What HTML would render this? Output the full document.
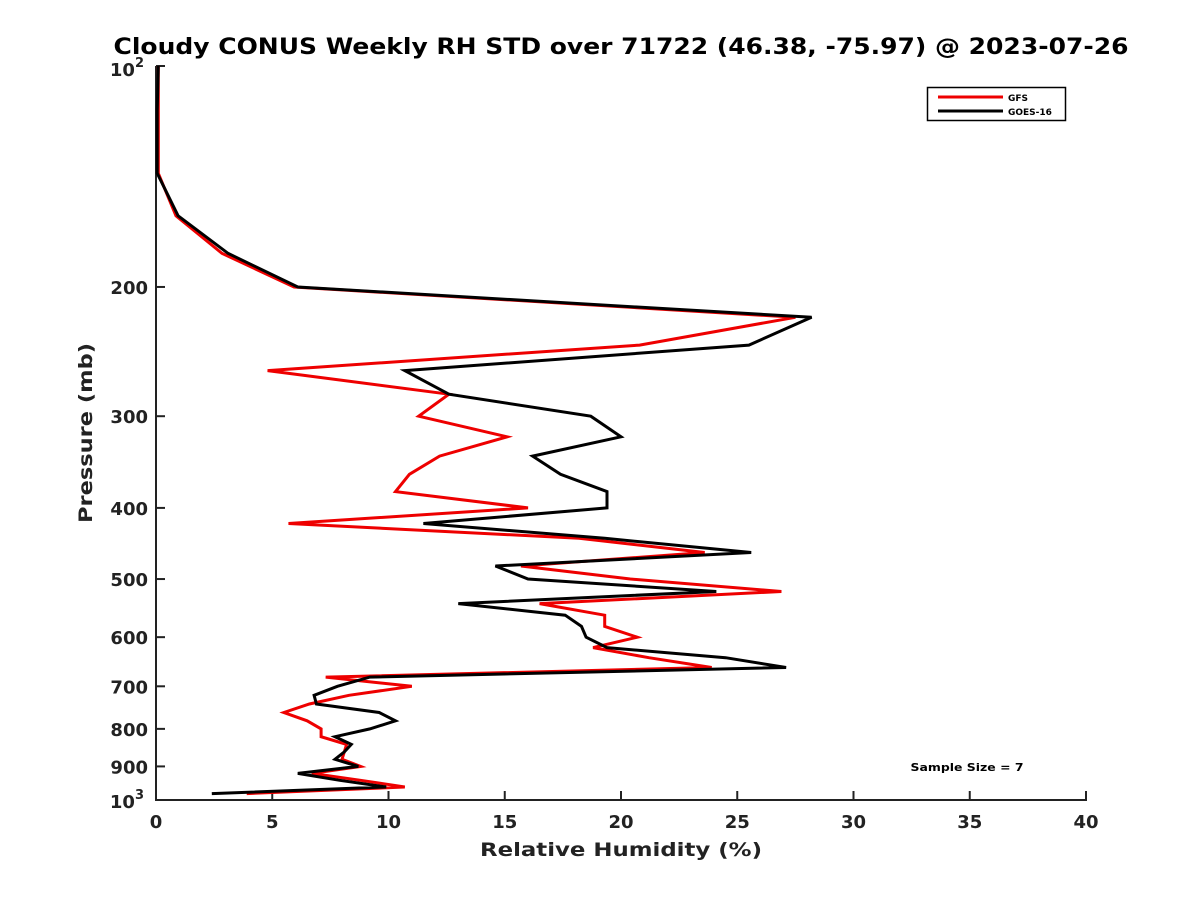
<!DOCTYPE html>
<html><head><meta charset="utf-8"><style>
body{margin:0;background:#fff;}
svg{display:block;font-family:"DejaVu Sans","Liberation Sans",sans-serif;}
</style></head><body>
<svg id="chart" width="1200" height="900">
<rect width="1200" height="900" fill="#fff"/>
<text x="621" y="54" font-size="22" font-weight="bold" text-anchor="middle" textLength="1015" lengthAdjust="spacingAndGlyphs">Cloudy CONUS Weekly RH STD over 71722 (46.38, -75.97) @ 2023-07-26</text>
<g id="axes"></g>
<g id="series"></g>
<text x="621" y="856" font-size="19" font-weight="bold" text-anchor="middle" fill="#222" textLength="282" lengthAdjust="spacingAndGlyphs">Relative Humidity (%)</text>
<text transform="translate(92,433) rotate(-90)" font-size="19" font-weight="bold" text-anchor="middle" fill="#222" textLength="180" lengthAdjust="spacingAndGlyphs">Pressure (mb)</text>
<g>
<rect x="927.5" y="87.5" width="138" height="33" fill="#fff" stroke="#000" stroke-width="1.5"/>
<line x1="938" y1="97" x2="1003" y2="97" stroke="#e00" stroke-width="3"/>
<text x="1008" y="101" font-size="9" font-weight="bold">GFS</text>
<line x1="938" y1="111" x2="1003" y2="111" stroke="#000" stroke-width="3"/>
<text x="1008" y="115" font-size="9" font-weight="bold">GOES-16</text>
</g>
<text x="967" y="771" font-size="11" font-weight="bold" text-anchor="middle" textLength="113" lengthAdjust="spacingAndGlyphs">Sample Size = 7</text>
</svg>
<script>
const pressures=[100,115,140,160,180,200,220,240,260,280,300,320,340,360,380,400,420,440,460,480,500,520,540,560,580,600,620,640,660,680,700,720,740,760,780,800,820,840,860,880,900,920,940,960,980];
const gfsValues=[0.1,0.1,0.1,0.86,2.84,5.94,27.5,20.8,4.8,12.6,11.3,15.1,12.2,10.9,10.3,16.0,5.7,18.2,23.6,15.7,20.4,26.9,16.5,19.3,19.3,20.7,18.8,21.2,23.9,7.3,11.0,8.3,6.6,5.5,6.5,7.1,7.1,8.2,8.1,8.0,8.8,6.7,8.8,10.7,3.9];
const goesValues=[0.1,0.05,0.05,0.95,3.1,6.1,28.2,25.5,10.7,12.6,18.7,20.0,16.2,17.4,19.4,19.4,11.5,19.3,25.6,14.6,16.0,24.1,13.0,17.6,18.3,18.5,19.4,24.5,27.1,9.2,7.8,6.8,6.9,9.6,10.3,9.2,7.7,8.4,8.1,7.7,8.7,6.1,7.9,9.9,2.4];
const xTicks=[0,5,10,15,20,25,30,35,40];
const yTicks=[200,300,400,500,600,700,800,900];
const L=156,R=1086,T=66,B=800;
const xs=v=>L+(v-0)/40*(R-L);
const ys=p=>T+Math.log10(p/100)*(B-T);
const NS="http://www.w3.org/2000/svg";
const ax=document.getElementById('axes');
function mk(tag,attrs,parent){const e=document.createElementNS(NS,tag);for(const k in attrs)e.setAttribute(k,attrs[k]);parent.appendChild(e);return e;}
let e;
e=mk('line',{x1:L,y1:T,x2:L,y2:B+1,stroke:'#222','stroke-width':2},ax);


e=mk('line',{x1:L-1,y1:B,x2:R+1,y2:B,stroke:'#222','stroke-width':2},ax);


xTicks.forEach(v=>{
  const t=mk('line',{x1:xs(v),y1:B,x2:xs(v),y2:B-9,stroke:'#222','stroke-width':2},ax);
  
  
  const l=mk('text',{x:xs(v),y:B+28,'font-size':18,'font-weight':'bold','text-anchor':'middle',fill:'#222'},ax);
  l.textContent=v;
  
  
});
[100,1000].forEach(p=>{
  const t=mk('line',{x1:L,y1:ys(p),x2:L+9,y2:ys(p),stroke:'#222','stroke-width':2},ax);
  
  
});
yTicks.forEach(p=>{
  const t=mk('line',{x1:L,y1:ys(p),x2:L+9,y2:ys(p),stroke:'#222','stroke-width':2},ax);
  
  
  const l=mk('text',{x:L-8,y:ys(p)+7,'font-size':18,'font-weight':'bold','text-anchor':'end',fill:'#222'},ax);
  l.textContent=p;
  
  
});
let l1=mk('text',{x:L-12,y:T+10,'font-size':18,'font-weight':'bold','text-anchor':'end',fill:'#222'},ax);
l1.innerHTML='10<tspan dy="-9" font-size="13">2</tspan>';


let l2=mk('text',{x:L-12,y:B+8,'font-size':18,'font-weight':'bold','text-anchor':'end',fill:'#222'},ax);
l2.innerHTML='10<tspan dy="-9" font-size="13">3</tspan>';


const sg=document.getElementById('series');
function line(vals,color,name){
  const pts=vals.map((v,i)=>xs(v).toFixed(1)+','+ys(pressures[i]).toFixed(1)).join(' ');
  const p=mk('polyline',{points:pts,fill:'none',stroke:color,'stroke-width':3,'stroke-linejoin':'miter'},sg);
  
  
}
line(gfsValues,'#e00','gfs-line');
line(goesValues,'#000','goes16-line');
</script>
</body></html>
